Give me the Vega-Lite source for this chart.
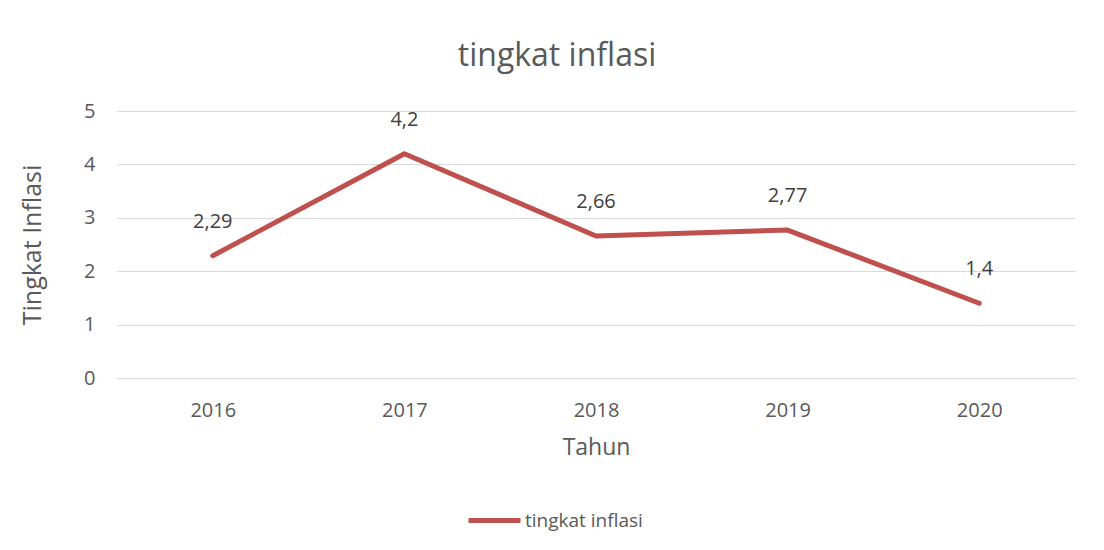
{
  "$schema": "https://vega.github.io/schema/vega-lite/v6.json",
  "width": 958,
  "height": 267,
  "autosize": {"type": "none"},
  "padding": {"left": 117, "top": 111, "right": 29, "bottom": 172},
  "background": "white",
  "title": {
    "text": "tingkat inflasi",
    "font": "Open Sans",
    "fontSize": 32,
    "fontWeight": "normal",
    "color": "#595959",
    "anchor": "middle",
    "dx": -39,
    "offset": 28
  },
  "data": {
    "values": [
      {"tahun": "2016", "inflasi": 2.29, "label": "2,29", "series": "tingkat inflasi"},
      {"tahun": "2017", "inflasi": 4.2, "label": "4,2", "series": "tingkat inflasi"},
      {"tahun": "2018", "inflasi": 2.66, "label": "2,66", "series": "tingkat inflasi"},
      {"tahun": "2019", "inflasi": 2.77, "label": "2,77", "series": "tingkat inflasi"},
      {"tahun": "2020", "inflasi": 1.4, "label": "1,4", "series": "tingkat inflasi"}
    ]
  },
  "encoding": {
    "x": {
      "field": "tahun",
      "type": "ordinal",
      "scale": {"type": "point", "padding": 0.5},
      "axis": {
        "title": "Tahun",
        "titleFontSize": 23,
        "labelAngle": 0,
        "ticks": false,
        "grid": false,
        "domainColor": "#d9d9d9",
        "labelPadding": 22,
        "titlePadding": 16
      }
    },
    "y": {
      "field": "inflasi",
      "type": "quantitative",
      "scale": {"domain": [0, 5], "nice": false},
      "axis": {
        "title": "Tingkat Inflasi",
        "titleFontSize": 25,
        "values": [0, 1, 2, 3, 4, 5],
        "labelOverlap": false,
        "ticks": false,
        "domain": false,
        "gridColor": "#d9d9d9",
        "labelPadding": 22,
        "titlePadding": 38
      }
    }
  },
  "layer": [
    {
      "mark": {"type": "line", "strokeWidth": 5, "strokeCap": "round", "strokeJoin": "round"},
      "encoding": {
        "color": {
          "field": "series",
          "type": "nominal",
          "scale": {"range": ["#C0504D"]},
          "legend": {
            "title": null,
            "orient": "none",
            "legendX": 349,
            "legendY": 381,
            "symbolType": "stroke",
            "symbolSize": 2700,
            "symbolStrokeWidth": 5,
            "labelFont": "Open Sans",
            "labelFontSize": 19,
            "labelColor": "#595959",
            "labelOffset": 2
          }
        }
      }
    },
    {
      "mark": {"type": "text", "dy": -34, "font": "Open Sans", "fontSize": 20, "color": "#404040"},
      "encoding": {"text": {"field": "label"}}
    }
  ],
  "config": {
    "view": {"stroke": null},
    "axis": {
      "labelFont": "Open Sans",
      "labelFontSize": 20,
      "labelColor": "#595959",
      "titleFont": "Open Sans",
      "titleFontSize": 20,
      "titleFontWeight": "normal",
      "titleColor": "#595959"
    }
  }
}
